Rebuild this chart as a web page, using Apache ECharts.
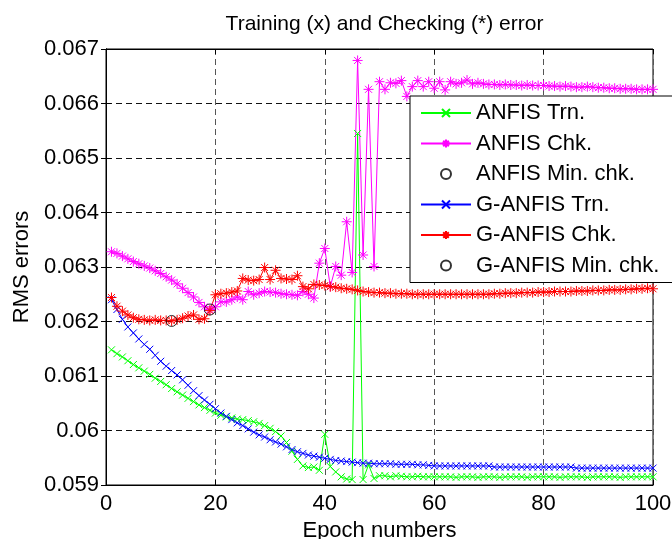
<!DOCTYPE html>
<html><head><meta charset="utf-8">
<script src="https://cdn.jsdelivr.net/npm/echarts@6/dist/echarts.min.js"></script>
<style>html,body{margin:0;padding:0;background:#fff}#c{width:672px;height:539px}</style>
</head><body><div id="c"></div>
<script>
const FONT = '"Liberation Sans", Arial, sans-serif';
const epochs = Array.from({length: 100}, (_, i) => i + 1);
const seriesNames = ['ANFIS Trn.', 'ANFIS Chk.', 'ANFIS Min. chk.', 'G-ANFIS Trn.', 'G-ANFIS Chk.', 'G-ANFIS Min. chk.'];
const xTicks = [0, 20, 40, 60, 80, 100];
const yTickLabels = ['0.059', '0.06', '0.061', '0.062', '0.063', '0.064', '0.065', '0.066', '0.067'];

const anfisTrn = [
 0.06148,0.06141,0.06135,0.06128,0.06121,0.06115,0.06109,0.06103,0.06096,0.06090,
 0.06084,0.06077,0.06071,0.06065,0.06059,0.06053,0.06047,0.06042,0.06037,0.06032,
 0.06028,0.06025,0.06023,0.06021,0.06020,0.06018,0.06016,0.06013,0.06009,0.06004,
 0.05998,0.05990,0.05978,0.05962,0.05947,0.05935,0.05932,0.05933,0.05927,0.05993,
 0.05934,0.05924,0.05915,0.05911,0.05910,0.06545,0.05910,0.05937,0.05912,0.05917,
 0.05917,0.05915,0.05917,0.05916,0.05915,0.05915,0.05916,0.05915,0.05915,0.05915,
 0.05915,0.05915,0.05915,0.05914,0.05915,0.05915,0.05915,0.05914,0.05915,0.05915,
 0.05915,0.05914,0.05915,0.05915,0.05915,0.05915,0.05914,0.05915,0.05915,0.05915,
 0.05915,0.05915,0.05914,0.05915,0.05915,0.05915,0.05915,0.05914,0.05915,0.05915,
 0.05915,0.05915,0.05915,0.05914,0.05915,0.05915,0.05915,0.05915,0.05915,0.05915
];
const anfisChk = [
 0.06328,0.06325,0.06320,0.06315,0.06310,0.06306,0.06302,0.06298,0.06293,0.06288,
 0.06282,0.06276,0.06269,0.06261,0.06253,0.06245,0.06235,0.06227,0.06222,0.06227,
 0.06236,0.06236,0.06240,0.06245,0.06240,0.06255,0.06249,0.06252,0.06255,0.06254,
 0.06253,0.06251,0.06250,0.06249,0.06248,0.06255,0.06250,0.06243,0.06307,0.06334,
 0.06264,0.06301,0.06285,0.06383,0.06290,0.06679,0.06322,0.06626,0.06301,0.06640,
 0.06626,0.06638,0.06637,0.06642,0.06613,0.06631,0.06642,0.06631,0.06640,0.06628,
 0.06640,0.06625,0.06640,0.06636,0.06638,0.06643,0.06636,0.06638,0.06636,0.06635,
 0.06635,0.06634,0.06635,0.06634,0.06634,0.06633,0.06634,0.06633,0.06633,0.06633,
 0.06632,0.06632,0.06631,0.06632,0.06631,0.06630,0.06630,0.06631,0.06630,0.06629,
 0.06629,0.06628,0.06628,0.06627,0.06627,0.06627,0.06626,0.06626,0.06626,0.06626
];
const ganfisTrn = [
 0.06240,0.06222,0.06204,0.06190,0.06179,0.06168,0.06158,0.06149,0.06138,0.06127,
 0.06118,0.06110,0.06102,0.06093,0.06083,0.06073,0.06064,0.06056,0.06048,0.06040,
 0.06032,0.06026,0.06020,0.06014,0.06009,0.06003,0.05997,0.05992,0.05988,0.05983,
 0.05979,0.05975,0.05970,0.05965,0.05961,0.05958,0.05955,0.05953,0.05951,0.05949,
 0.05947,0.05945,0.05944,0.05943,0.05942,0.05941,0.05940,0.05940,0.05939,0.05939,
 0.05939,0.05939,0.05938,0.05938,0.05938,0.05938,0.05937,0.05937,0.05936,0.05935,
 0.05935,0.05935,0.05935,0.05935,0.05935,0.05935,0.05935,0.05935,0.05935,0.05935,
 0.05933,0.05933,0.05933,0.05933,0.05933,0.05933,0.05933,0.05933,0.05933,0.05933,
 0.05933,0.05933,0.05933,0.05933,0.05933,0.05931,0.05931,0.05931,0.05931,0.05931,
 0.05931,0.05931,0.05931,0.05931,0.05931,0.05931,0.05931,0.05931,0.05931,0.05931
];
const ganfisChk = [
 0.06244,0.06228,0.06219,0.06212,0.06207,0.06204,0.06203,0.06202,0.06203,0.06202,
 0.06202,0.06201,0.06203,0.06206,0.06210,0.06212,0.06204,0.06205,0.06220,0.06249,
 0.06251,0.06252,0.06254,0.06256,0.06279,0.06276,0.06275,0.06277,0.06299,0.06277,
 0.06294,0.06279,0.06278,0.06277,0.06284,0.06264,0.06260,0.06268,0.06267,0.06266,
 0.06264,0.06263,0.06261,0.06260,0.06259,0.06257,0.06255,0.06254,0.06253,0.06253,
 0.06252,0.06252,0.06251,0.06251,0.06251,0.06250,0.06250,0.06250,0.06250,0.06250,
 0.06250,0.06250,0.06250,0.06250,0.06250,0.06250,0.06250,0.06250,0.06250,0.06250,
 0.06251,0.06251,0.06252,0.06252,0.06252,0.06253,0.06253,0.06253,0.06254,0.06254,
 0.06254,0.06255,0.06255,0.06255,0.06255,0.06256,0.06256,0.06256,0.06257,0.06257,
 0.06257,0.06258,0.06258,0.06258,0.06259,0.06259,0.06260,0.06260,0.06261,0.06260
];

function argmin(a) { let k = 0; a.forEach((v, i) => { if (v < a[k]) k = i; }); return k; }
const anfisMinIdx = argmin(anfisChk);
const ganfisMinIdx = argmin(ganfisChk);

const X_SYM = 'path://M0,0L10,10M10,0L0,10';
const STAR_SYM = 'path://M5,0L5,10M0,5L10,5M1.5,1.5L8.5,8.5M8.5,1.5L1.5,8.5';

function lineSeries(name, vals, color, sym, size) {
  return {
    name, type: 'line', data: epochs.map((e, i) => [e, vals[i]]),
    symbol: sym, symbolSize: size, showSymbol: true, showAllSymbol: true,
    lineStyle: {color, width: 1},
    itemStyle: {color: 'transparent', borderColor: color, borderWidth: 1},
    emphasis: {disabled: true}, animation: false
  };
}
function minSeries(name, vals, idx) {
  return {
    name, type: 'scatter', data: [[epochs[idx], vals[idx]]],
    symbol: 'circle', symbolSize: 11,
    itemStyle: {color: 'transparent', borderColor: '#000', borderWidth: 1},
    emphasis: {disabled: true}, z: 5, animation: false
  };
}

const axisCommon = {
  axisLine: {show: true, lineStyle: {color: '#000', width: 1}},
  axisTick: {show: true, inside: true, length: 5, lineStyle: {color: '#000'}},
};

const chart = echarts.init(document.getElementById('c'), null, {renderer: 'canvas'});
chart.setOption({
  animation: false,
  backgroundColor: '#fff',
  title: {
    text: 'Training (x) and Checking (*) error',
    left: 379.5, top: 9, textAlign: 'center',
    textStyle: {fontSize: 21, fontWeight: 'normal', color: '#000', fontFamily: FONT}
  },
  grid: {left: 106, right: 19, top: 49, bottom: 54, containLabel: false, outerBoundsMode: 'none',
    show: true, borderColor: '#000', borderWidth: 1, backgroundColor: 'transparent'},
  legend: {
    orient: 'vertical', left: 410, top: 96,
    backgroundColor: '#fff', borderColor: '#000', borderWidth: 1,
    padding: [5, 14, 5, 10], itemGap: 6.5, itemWidth: 50, itemHeight: 10,
    selectedMode: false,
    textStyle: {fontSize: 22, lineHeight: 24, color: '#000', fontFamily: FONT},
    data: seriesNames
  },
  xAxis: [
    Object.assign({
      type: 'value', min: xTicks[0], max: xTicks[xTicks.length - 1], interval: 20, position: 'bottom',
      axisLabel: {fontSize: 22, color: '#000', margin: 8, fontFamily: FONT},
      splitLine: {show: true, lineStyle: {type: [6, 4], color: '#555', width: 1}},
      name: 'Epoch numbers', nameLocation: 'middle', nameGap: 31,
      nameTextStyle: {fontSize: 22, color: '#000', fontFamily: FONT}
    }, axisCommon),
    Object.assign({
      type: 'value', min: 0, max: 100, interval: 20, position: 'top',
      axisLabel: {show: false}, splitLine: {show: false}
    }, axisCommon)
  ],
  yAxis: [
    Object.assign({
      type: 'value', min: 0.059, max: 0.067, interval: 0.001, position: 'left',
      axisLabel: {fontSize: 22, color: '#000', margin: 7, fontFamily: FONT,
        formatter: v => yTickLabels[Math.round((v - 0.059) / 0.001)]},
      splitLine: {show: true, lineStyle: {type: [6, 4], color: '#111', width: 1}},
      name: 'RMS errors', nameLocation: 'middle', nameGap: 58,
      nameTextStyle: {fontSize: 22, color: '#000', fontFamily: FONT}
    }, axisCommon),
    Object.assign({
      type: 'value', min: 0.059, max: 0.067, interval: 0.001, position: 'right',
      axisLabel: {show: false}, splitLine: {show: false}
    }, axisCommon)
  ],
  series: [
    lineSeries(seriesNames[0], anfisTrn, '#00ff00', X_SYM, 7),
    lineSeries(seriesNames[1], anfisChk, '#ff00ff', STAR_SYM, 10),
    minSeries(seriesNames[2], anfisChk, anfisMinIdx),
    lineSeries(seriesNames[3], ganfisTrn, '#0000ff', X_SYM, 7),
    lineSeries(seriesNames[4], ganfisChk, '#ff0000', STAR_SYM, 10),
    minSeries(seriesNames[5], ganfisChk, ganfisMinIdx)
  ]
});
</script>
</body></html>
